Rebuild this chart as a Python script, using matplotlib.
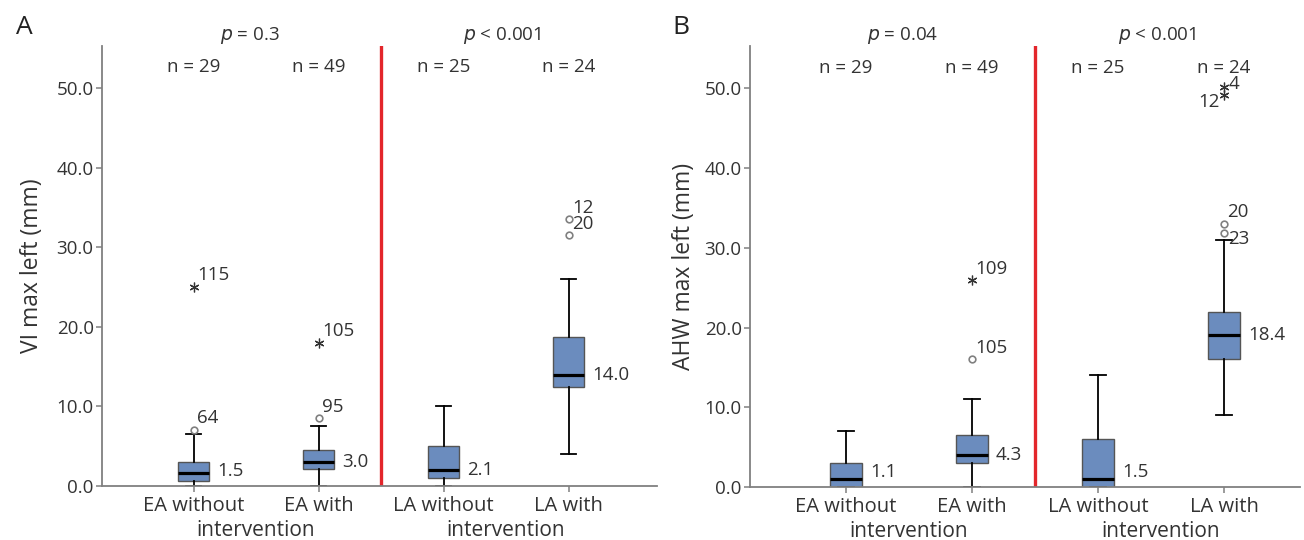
import matplotlib
matplotlib.use("Agg")
import matplotlib.pyplot as plt
import matplotlib.transforms as mtransforms

plt.rcParams['font.family'] = ['Open Sans', 'DejaVu Sans']

# ---------------- data ----------------
categories = ["EA without", "EA with", "LA without", "LA with"]
group_label = "intervention"
n_labels = ["n = 29", "n = 49", "n = 25", "n = 24"]

# Panel A: VI max left (mm)
A_whislo = [0.0, 0.0, 0.0, 4.0]
A_q1 = [0.6, 2.1, 1.0, 12.5]
A_med = [1.6, 3.0, 2.0, 14.0]
A_q3 = [3.0, 4.5, 5.0, 18.7]
A_whishi = [6.5, 7.5, 10.0, 26.0]
A_mean_labels = ["1.5", "3.0", "2.1", "14.0"]
A_circles = [[7.1], [8.5], [], [33.5, 31.5]]
A_circle_ids = [["64"], ["95"], [], ["12", "20"]]
A_stars = [[25.0], [18.0], [], []]
A_star_ids = [["115"], ["105"], [], []]
A_p = ["p = 0.3", "p < 0.001"]

# Panel B: AHW max left (mm)
B_whislo = [0.0, 0.0, 0.0, 9.0]
B_q1 = [0.0, 3.0, 0.0, 16.0]
B_med = [1.0, 4.0, 1.0, 19.0]
B_q3 = [3.0, 6.5, 6.0, 22.0]
B_whishi = [7.0, 11.0, 14.0, 31.0]
B_mean_labels = ["1.1", "4.3", "1.5", "18.4"]
B_circles = [[], [16.0], [], [33.0, 31.9]]
B_circle_ids = [[], ["105"], [], ["20", "23"]]
B_stars = [[], [25.9], [], [50.1, 49.1]]
B_star_ids = [[], ["109"], [], ["4", "12"]]
B_p = ["p = 0.04", "p < 0.001"]

# ---------------- style ----------------
TXT = "#333333"
GRID = "#808080"
BOX = "#6b8cbe"
RED = "#e3262b"
FS = 13.5

# label placements: (dx pt, dy pt, ha, va)
PLACE = {
    "ur": (2.5, 2.0, "left", "bottom"),
    "r": (3.0, 2.5, "left", "center"),
    "r_below": (3.0, 2.0, "left", "top"),
    "l_below": (-3.0, 2.0, "right", "top"),
}
special = {("B", "23"): "r_below", ("B", "12"): "l_below", ("B", "4"): "r"}

fig = plt.figure(figsize=(13.04, 5.4), dpi=100)
W, H = 1304.0, 540.0


def panel(rect, xlim, tag, ylabel, ylabel_x, whislo, q1, med, q3, whishi,
          means, circles, circle_ids, stars, star_ids, ptexts, letter_xy):
    ax = fig.add_axes(rect)
    pos = list(range(len(categories)))
    stats = []
    for i in pos:
        stats.append(dict(med=med[i], q1=q1[i], q3=q3[i], whislo=whislo[i],
                          whishi=whishi[i], fliers=[]))
    ax.bxp(stats, positions=pos, widths=0.25, capwidths=0.125,
           patch_artist=True, showfliers=False,
           boxprops=dict(facecolor=BOX, edgecolor="#555555", linewidth=1.0),
           medianprops=dict(color="black", linewidth=2.3),
           whiskerprops=dict(color="black", linewidth=1.3),
           capprops=dict(color="black", linewidth=1.3))
    ax.set_xlim(*xlim)
    ax.set_ylim(0, 55.3)

    # mean labels
    for i in pos:
        ax.annotate(means[i], xy=(pos[i] + 0.125, max(med[i], 1.9)),
                    xytext=(6, 0), textcoords="offset points",
                    ha="left", va="center", fontsize=FS, color=TXT)

    # outliers
    for i in pos:
        for v, lab in zip(circles[i], circle_ids[i]):
            ax.plot([pos[i]], [v], marker="o", ms=4.8, mfc="white",
                    mec="#808080", mew=1.2, ls="none", zorder=4)
            dx, dy, ha, va = PLACE[special.get((tag, lab), "ur")]
            ax.annotate(lab, xy=(pos[i], v), xytext=(dx, dy),
                        textcoords="offset points", ha=ha, va=va,
                        fontsize=FS, color=TXT)
        for v, lab in zip(stars[i], star_ids[i]):
            ax.plot([pos[i]], [v], marker=(6, 2, 0), ms=7, mec="#333333",
                    mew=0.9, ls="none", zorder=4)
            dx, dy, ha, va = PLACE[special.get((tag, lab), "ur")]
            ax.annotate(lab, xy=(pos[i], v), xytext=(dx, dy),
                        textcoords="offset points", ha=ha, va=va,
                        fontsize=FS, color=TXT)

    # n labels
    for i in pos:
        ax.text(pos[i], 52.6, n_labels[i], ha="center", va="center",
                fontsize=FS, color=TXT)

    # separator
    ax.axvline(1.5, color=RED, lw=2.4, zorder=1)

    # p values
    trans = mtransforms.blended_transform_factory(ax.transData, ax.transAxes)
    for xc, t in zip([0.45, 2.47], ptexts):
        sym, rest = t.split(" ", 1)
        ax.text(xc, 1.023, r"$\mathit{p}$ " + rest, transform=trans,
                ha="center", va="center", fontsize=FS, color=TXT)

    # group labels
    for xc in [0.5, 2.5]:
        ax.text(xc, -0.1, group_label, transform=trans, ha="center",
                va="center", fontsize=15, color=TXT)

    # axes styling
    for s in ["top", "right"]:
        ax.spines[s].set_visible(False)
    for s in ["left", "bottom"]:
        ax.spines[s].set_color(GRID)
        ax.spines[s].set_linewidth(1.3)
    ax.set_xticks(pos)
    ax.set_xticklabels(categories, fontsize=14.5, color=TXT)
    ax.set_yticks([0, 10, 20, 30, 40, 50])
    ax.set_yticklabels(["%.1f" % v for v in [0, 10, 20, 30, 40, 50]],
                       fontsize=FS, color=TXT)
    ax.tick_params(axis="both", colors=GRID, length=4, width=1.1)
    ax.tick_params(axis="x", pad=3, labelcolor=TXT)
    ax.tick_params(axis="y", pad=2, labelcolor=TXT)
    ax.set_ylabel(ylabel, fontsize=16.5, color=TXT)
    ax.yaxis.set_label_coords(ylabel_x, 0.5)

    fig.text(letter_xy[0] / W, 1 - letter_xy[1] / H, tag, ha="center",
             va="center", fontsize=19, color="#222222")
    return ax


panel([102 / W, 54 / H, (657 - 102) / W, 440 / H], (-0.732, 3.708), "A",
      "VI max left (mm)", (44 - 102) / 555.0,
      A_whislo, A_q1, A_med, A_q3, A_whishi, A_mean_labels,
      A_circles, A_circle_ids, A_stars, A_star_ids, A_p, (24, 28))

panel([750 / W, 53 / H, (1300 - 750) / W, 441 / H], (-0.762, 3.603), "B",
      "AHW max left (mm)", (696 - 750) / 550.0,
      B_whislo, B_q1, B_med, B_q3, B_whishi, B_mean_labels,
      B_circles, B_circle_ids, B_stars, B_star_ids, B_p, (681, 28))

fig.savefig("out.png", dpi=100)
